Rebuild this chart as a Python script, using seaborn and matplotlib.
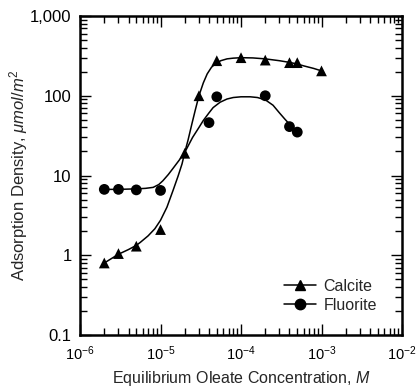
import matplotlib
matplotlib.use("Agg")
import matplotlib.pyplot as plt
import matplotlib.ticker as mticker
from matplotlib.lines import Line2D
import numpy as np
import pandas as pd
import seaborn as sns

# Measured adsorption points
calcite_conc = [2e-6, 3e-6, 5e-6, 1e-5, 2e-5, 3e-5, 5e-5, 1e-4, 2e-4, 4e-4, 5e-4, 1e-3]
calcite_ads = [0.8, 1.05, 1.3, 2.1, 19, 100, 275, 300, 280, 260, 260, 205]

fluorite_conc = [2e-6, 3e-6, 5e-6, 1e-5, 4e-5, 5e-5, 2e-4, 4e-4, 5e-4]
fluorite_ads = [6.7, 6.7, 6.6, 6.5, 46, 97, 100, 41, 35]

# Smoothed trend curves through the data
calcite_curve_conc = [2e-6, 3e-6, 4e-6, 5e-6, 5.6e-6, 7e-6, 8.5e-6, 1e-5, 1.2e-5, 1.43e-5,
                      1.65e-5, 1.85e-5, 2e-5, 2.2e-5, 2.46e-5, 2.7e-5, 3e-5, 3.4e-5,
                      3.8e-5, 4.3e-5, 4.8e-5, 5.6e-5, 6.7e-5, 8e-5, 1e-4, 1.4e-4,
                      2e-4, 3e-4, 4e-4, 5e-4, 6e-4, 8e-4, 1e-3]
calcite_curve_ads = [0.8, 1.03, 1.18, 1.33, 1.45, 1.75, 2.15, 2.75, 4.0, 6.5,
                     9.8, 14, 19.5, 28, 45, 66, 100, 145,
                     188, 228, 251, 275, 290, 296, 300, 298,
                     290, 275, 262, 250, 237, 220, 205]

fluorite_curve_conc = [2e-6, 3e-6, 5e-6, 6.5e-6, 8.1e-6, 9.5e-6, 1.07e-5, 1.25e-5, 1.43e-5,
                       1.7e-5, 2e-5, 2.5e-5, 3e-5, 3.4e-5, 4e-5, 4.5e-5, 5.5e-5, 6.7e-5,
                       8e-5, 1e-4, 1.3e-4, 1.6e-4, 2e-4, 2.5e-4, 3e-4, 3.5e-4, 4e-4,
                       4.5e-4, 5e-4]
fluorite_curve_ads = [6.7, 6.7, 6.8, 6.9, 7.1, 7.7, 8.6, 10.3, 12.3,
                      15.5, 19.5, 30, 40, 49, 61, 71, 83, 91,
                      95, 97, 97, 95, 89, 76, 61, 51, 44,
                      39, 35]

x_ticks = [1e-6, 1e-5, 1e-4, 1e-3, 1e-2]
x_tick_labels = [r"$10^{-6}$", r"$10^{-5}$", r"$10^{-4}$", r"$10^{-3}$", r"$10^{-2}$"]
y_ticks = [0.1, 1, 10, 100, 1000]
y_tick_labels = ["0.1", "1", "10", "100", "1,000"]

sns.set_style("ticks")
plt.rcParams["font.family"] = ["Liberation Sans", "DejaVu Sans"]
plt.rcParams["mathtext.fontset"] = "custom"
plt.rcParams["mathtext.rm"] = "Liberation Sans"
plt.rcParams["mathtext.it"] = "Liberation Sans:italic"

fig = plt.figure(figsize=(4.17, 3.90), dpi=100)
ax = fig.add_axes([0.192, 0.141, 0.772, 0.818])

curves = pd.concat([
    pd.DataFrame({"conc": calcite_curve_conc, "ads": calcite_curve_ads, "mineral": "Calcite"}),
    pd.DataFrame({"conc": fluorite_curve_conc, "ads": fluorite_curve_ads, "mineral": "Fluorite"}),
])
points = pd.concat([
    pd.DataFrame({"conc": calcite_conc, "ads": calcite_ads, "mineral": "Calcite"}),
    pd.DataFrame({"conc": fluorite_conc, "ads": fluorite_ads, "mineral": "Fluorite"}),
])

sns.lineplot(data=curves, x="conc", y="ads", units="mineral", estimator=None,
             color="black", lw=1.1, ax=ax, legend=False, sort=False)
sns.scatterplot(data=points, x="conc", y="ads", style="mineral",
                markers={"Calcite": "^", "Fluorite": "o"}, color="black",
                s=60, edgecolor="black", linewidth=0, ax=ax, legend=False)

ax.set_xscale("log")
ax.set_yscale("log")
ax.set_xlim(1e-6, 1e-2)
ax.set_ylim(0.1, 1000)
ax.set_xticks(x_ticks)
ax.set_xticklabels(x_tick_labels)
ax.set_yticks(y_ticks)
ax.set_yticklabels(y_tick_labels)
ax.xaxis.set_minor_locator(mticker.LogLocator(base=10, subs=np.arange(2, 10)))
ax.yaxis.set_minor_locator(mticker.LogLocator(base=10, subs=np.arange(2, 10)))
ax.xaxis.set_minor_formatter(mticker.NullFormatter())
ax.yaxis.set_minor_formatter(mticker.NullFormatter())

ax.tick_params(which="both", direction="in", top=True, right=True, colors="black",
               width=1.0)
ax.tick_params(which="major", length=8)
ax.tick_params(which="minor", length=5)
ax.tick_params(axis="x", which="major", pad=7, labelsize=10.5)
ax.tick_params(axis="y", which="major", pad=6, labelsize=12)
for sp in ax.spines.values():
    sp.set_linewidth(1.8)
    sp.set_color("black")

ax.set_xlabel(r"Equilibrium Oleate Concentration, $\it{M}$", fontsize=11.5, labelpad=4)
ax.set_ylabel(r"Adsorption Density, $\it{\mu mol/m^2}$", fontsize=12, labelpad=0)

handles = [Line2D([], [], color="black", marker="^", lw=1.1, markersize=7.5),
           Line2D([], [], color="black", marker="o", lw=1.1, markersize=7.5)]
ax.legend(handles, ["Calcite", "Fluorite"], loc="lower right", frameon=False,
          fontsize=11.5, handlelength=2.0, handletextpad=0.5, labelspacing=0.25,
          borderaxespad=0, bbox_to_anchor=(0.943, 0.05))

fig.savefig("out.png", dpi=100)
